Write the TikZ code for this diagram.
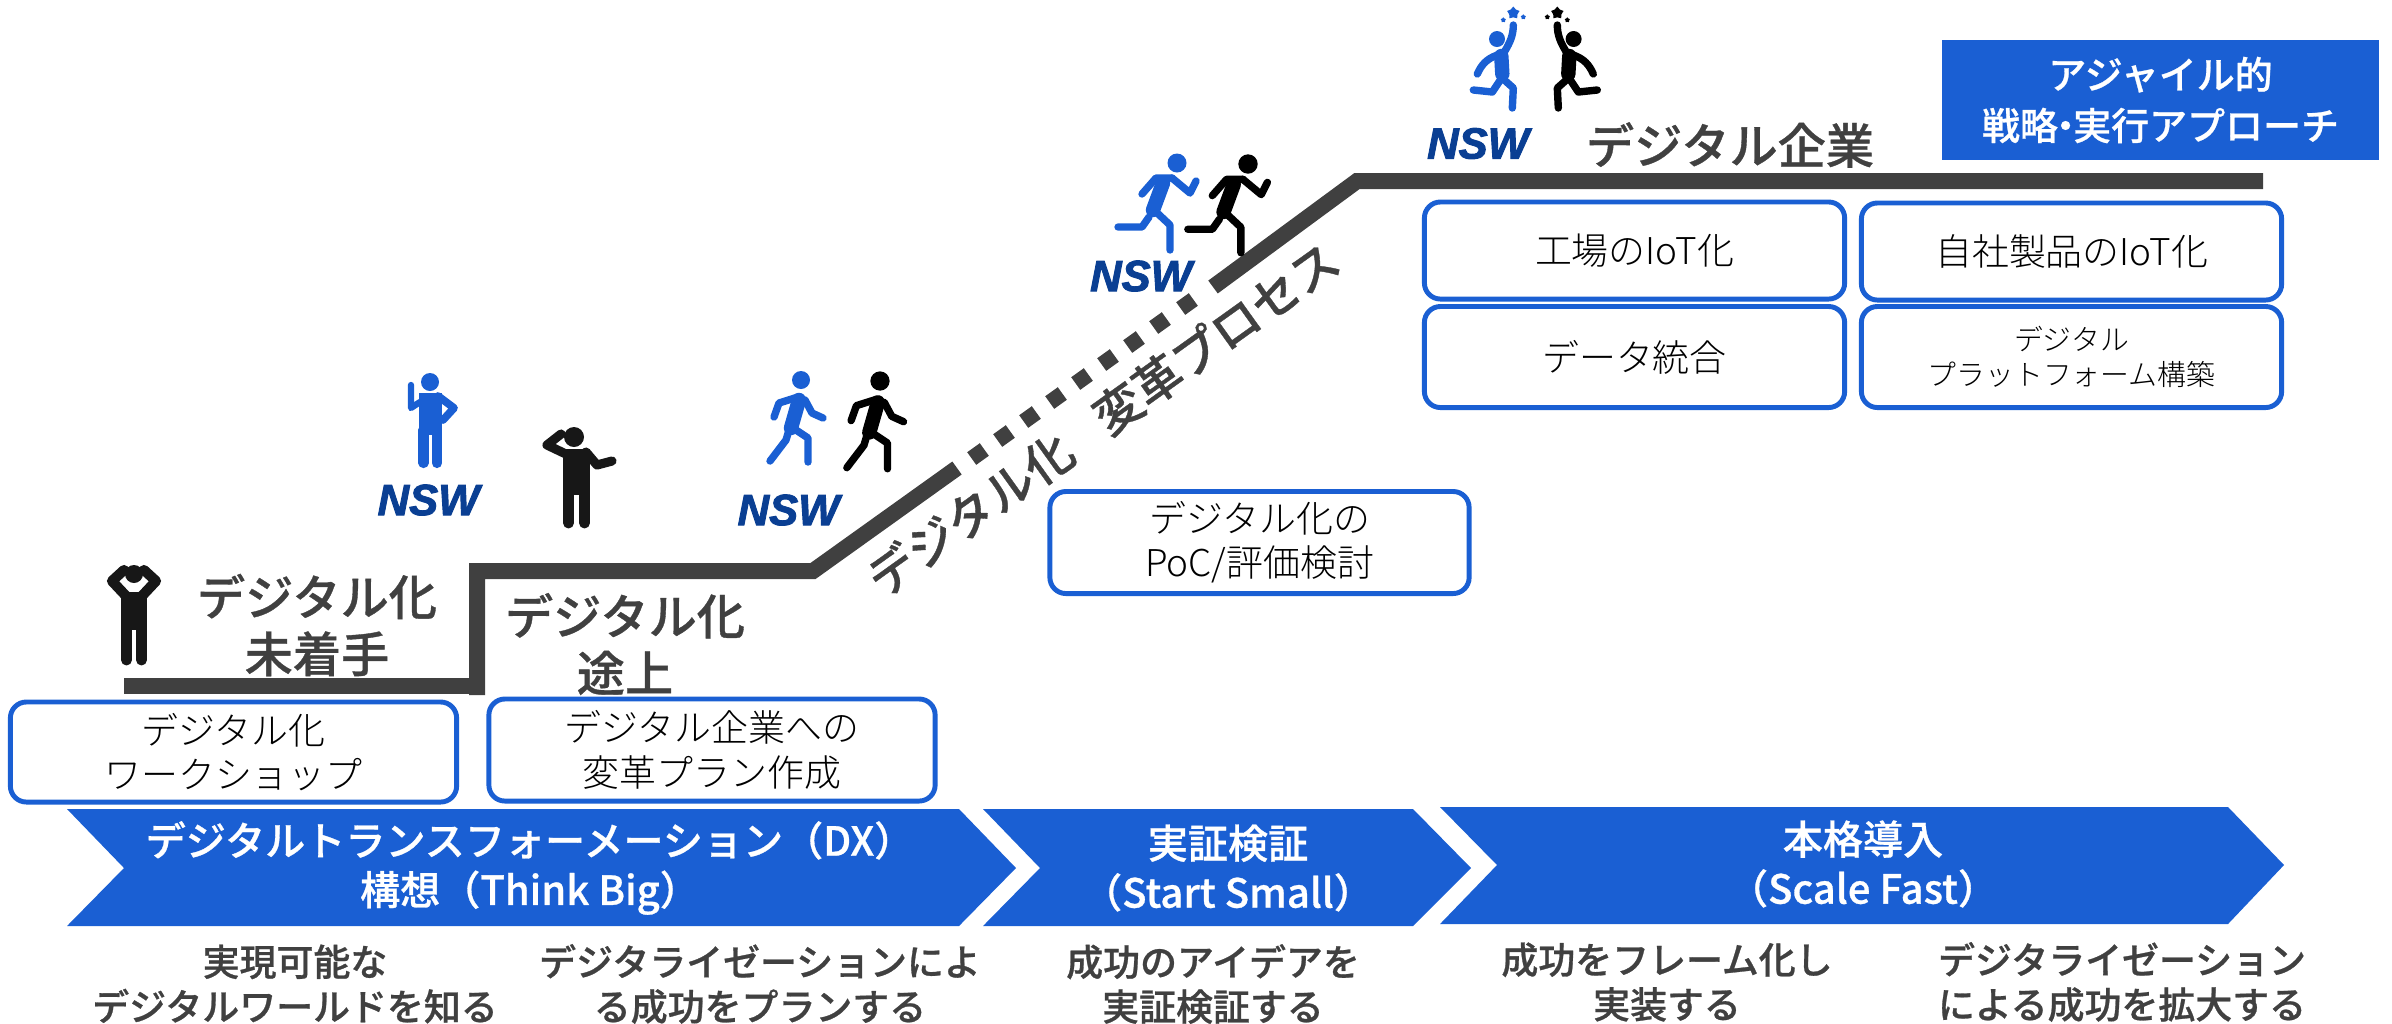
\documentclass[tikz,border=0pt]{standalone}
\usepackage{fontspec}
\setmainfont{Noto Sans CJK JP}
\newfontfamily\nswfont[FakeBold=2.2]{Liberation Sans}
\newfontfamily\midfont[FakeBold=0.7]{Noto Sans CJK JP Medium}
\newfontfamily\thinfont{Noto Sans CJK JP Light}
\usetikzlibrary{shapes.geometric}

\definecolor{nswblue}{HTML}{1A5FD3}
\definecolor{nswdark}{HTML}{0A3F93}
\definecolor{stepgray}{HTML}{404040}
\definecolor{figblack}{HTML}{171717}

\tikzset{
  stepline/.style={draw=stepgray, line width=4.55pt},
  stepdot/.style={fill=stepgray, rotate=35.6, minimum size=0.155cm, inner sep=0pt},
  stagetext/.style={text=stepgray, align=center, font=\midfont\fontsize{13.7pt}{16.2pt}\selectfont},
  worditem/.style 2 args={draw=nswblue, line width=1.4pt, rounded corners=0.16cm, align=center, inner sep=0pt,
    minimum width=#1cm, minimum height=#2cm, font=\thinfont\fontsize{10.5pt}{12.6pt}\selectfont},
  chevtext/.style={text=white, align=center, font=\midfont\fontsize{11.4pt}{14pt}\selectfont},
  goaltext/.style={text=stepgray, align=center, font=\midfont\fontsize{10.5pt}{12.7pt}\selectfont},
  nsw/.style={text=nswdark, inner sep=0pt, font=\nswfont\bfseries\itshape\fontsize{12.4pt}{12.4pt}\selectfont},
  limb/.style={draw=#1, line width=2.1pt, line cap=round, line join=round},
  trunk/.style={draw=#1, line width=4.1pt, line cap=round, line join=round}
}

% walking figure, origin at the head
\newcommand{\walkfig}[1]{
  \fill[#1] (0,0) circle (9);
  \draw[limb=#1] (-3,17) -- (-22,23) -- (-27,37);
  \draw[limb=#1] (4,20) -- (11,33) -- (22,38);
  \draw[trunk=#1] (-2,20) -- (-10,48);
  \draw[limb=#1] (-12,50) -- (-15,60) -- (-31,81);
  \draw[limb=#1] (-8,48) -- (7,58) -- (7,82);
}
% running figure, origin at the head
\newcommand{\runfig}[1]{
  \fill[#1] (0,0) circle (9.5);
  \draw[limb=#1] (-5,15) -- (-21,15) -- (-35,31);
  \draw[limb=#1] (-5,15) -- (13,30) -- (19,18);
  \draw[trunk=#1] (-14,20) -- (-24,47);
  \draw[limb=#1] (-28,54) -- (-35,64) -- (-59,64);
  \draw[limb=#1] (-23,47) -- (-7,62) -- (-7,87);
}
% jumping figure, origin on the axis between both
\newcommand{\jumpfig}[1]{
  \fill[#1] (-38.3,39) circle (8);
  \draw[limb=#1] (-31,52) .. controls (-25,42) and (-22,35) .. (-22,25);
  \draw[trunk=#1] (-34,56) -- (-33,74);
  \draw[limb=#1] (-38,55) .. controls (-49,59) and (-54,65) .. (-58,74);
  \draw[limb=#1] (-35,80) -- (-43,92) -- (-62,90);
  \draw[limb=#1] (-31,80) -- (-22,88) -- (-23,108);
  \node[star, fill=#1, inner sep=0pt, minimum size=0.13cm] (bigstar#1) at (-22,13) {};
  \node[star, fill=#1, inner sep=0pt, minimum size=0.055cm] (leftstar#1) at (-32,20) {};
  \node[star, fill=#1, inner sep=0pt, minimum size=0.055cm] (rightstar#1) at (-12,17) {};
}

\begin{document}
\begin{tikzpicture}[x=0.01cm, y=-0.01cm]
\useasboundingbox (0,0) rectangle (2392,1023);

% Stairs
\draw[stepline] (124,685.5) -- (485,685.5);
\draw[stepline] (477,695) -- (477,571) -- (813,571) -- (957,468);
\draw[stepline] (1213,287) -- (1357,181) -- (2263,181);
\foreach \px/\py in {978/454,1004/436,1030/417,1056/398,1082/379,1108/360,1134/342,1160/323,1187/304}
  \node[stepdot] at (\px,\py) {};

% Stage labels
\node[stagetext] (untouched) at (317,625) {デジタル化\\未着手};
\node[stagetext] (midway) at (625,644) {デジタル化\\途上};
\node[stagetext, rotate=35.6] (digitize) at (970,514) {デジタル化};
\node[stagetext, rotate=35.6] (reform) at (1216,338) {変革プロセス};
\node[stagetext] (company) at (1730,145) {デジタル企業};

% Work items
\node[worditem={4.46}{1.00}] (workshop) at (233.5,752) {デジタル化\\ワークショップ};
\node[worditem={4.46}{1.02}] (plan) at (712,750) {デジタル企業への\\変革プラン作成};
\node[worditem={4.19}{1.02}] (poc) at (1259.5,542.5) {デジタル化の\\PoC/評価検討};
\node[worditem={4.20}{0.97}] (factory) at (1634.5,250.5) {工場のIoT化};
\node[worditem={4.20}{0.97}] (product) at (2071.5,251.5) {自社製品のIoT化};
\node[worditem={4.20}{1.01}] (data) at (1634.5,357) {データ統合};
\node[worditem={4.20}{1.01}, font=\thinfont\fontsize{8.2pt}{10pt}\selectfont] (platform) at (2071.5,357) {デジタル\\プラットフォーム構築};

% Agile box
\node[fill=nswblue, minimum width=4.37cm, minimum height=1.20cm, inner sep=0pt, align=center, text=white,
  font=\midfont\fontsize{10.8pt}{14.5pt}\selectfont] (agile) at (2160.5,100) {アジャイル的\\戦略\hspace{-0.3em}・\hspace{-0.3em}実行アプローチ};

% Chevrons
\fill[nswblue] (67,809) -- (959,809) -- (1016,868) -- (959,926) -- (67,926) -- (124,868) -- cycle;
\fill[nswblue] (983,809) -- (1413,809) -- (1471,868) -- (1413,926) -- (983,926) -- (1040,868) -- cycle;
\fill[nswblue] (1440,807) -- (2228,807) -- (2284,865) -- (2228,924) -- (1440,924) -- (1497,865) -- cycle;
\node[chevtext] (think) at (530,868) {デジタルトランスフォーメーション（DX）\\構想（Think Big）};
\node[chevtext] (start) at (1228,868) {実証検証\\（Start Small）};
\node[chevtext] (scale) at (1863,864) {本格導入\\（Scale Fast）};

% Goals
\node[goaltext] (goala) at (295,984) {実現可能な\\デジタルワールドを知る};
\node[goaltext] (goalb) at (760,984) {デジタライゼーションによ\\る成功をプランする};
\node[goaltext] (goalc) at (1213,984) {成功のアイデアを\\実証検証する};
\node[goaltext] (goald) at (1667,982) {成功をフレーム化し\\実装する};
\node[goaltext] (goale) at (2122,982) {デジタライゼーション\\による成功を拡大する};

% NSW marks
\node[nsw] (nswa) at (428.5,500) {NSW};
\node[nsw] (nswb) at (788.5,510) {NSW};
\node[nsw] (nswc) at (1141,276) {NSW};
\node[nsw] (nswd) at (1478,143.5) {NSW};

% Hands on head
\fill[figblack] (134,574) circle (9);
\draw[figblack, line width=2.9pt, line join=round, line cap=round] (127,597) -- (112,581) -- (124,570);
\draw[figblack, line width=2.9pt, line join=round, line cap=round] (141,597) -- (156,581) -- (144,570);
\fill[figblack] (121,592) rectangle (147,630);
\draw[figblack, line width=3.1pt, line cap=round] (126.5,625) -- (126.5,660);
\draw[figblack, line width=3.1pt, line cap=round] (141.5,625) -- (141.5,660);

% Pointing up
\fill[nswblue] (430,382) circle (9);
\draw[nswblue, line width=1.8pt, line join=round, line cap=round] (411,385) -- (411,408) -- (420,402);
\draw[nswblue, line width=2.2pt, line join=round, line cap=round] (438,396) -- (454,408) -- (443,420);
\fill[nswblue] (418.5,393) rectangle (442,435);
\draw[nswblue, line width=2.9pt, line cap=round] (423.5,430) -- (423.5,463);
\draw[nswblue, line width=2.9pt, line cap=round] (437,430) -- (437,463);

% Hand at head
\fill[figblack] (574,437) circle (10);
\draw[figblack, line width=2.6pt, line join=round, line cap=round] (568,455) -- (547,445) -- (561,434);
\draw[figblack, line width=2.6pt, line join=round, line cap=round] (586,452) -- (597,465) -- (612,461);
\fill[figblack] (563,449) rectangle (590,495);
\draw[figblack, line width=3.1pt, line cap=round] (568.5,490) -- (568.5,523);
\draw[figblack, line width=3.1pt, line cap=round] (584.5,490) -- (584.5,523);

% Walking pair
\begin{scope}[shift={(801,380)}]
  \walkfig{nswblue}
\end{scope}
\begin{scope}[shift={(880,381)}, scale=1.07]
  \walkfig{black}
\end{scope}

% Running pair
\begin{scope}[shift={(1177,163)}]
  \runfig{nswblue}
\end{scope}
\begin{scope}[shift={(1248,164)}, scale=1.02]
  \runfig{black}
\end{scope}

% Jumping pair
\begin{scope}[shift={(1535.3,0)}]
  \jumpfig{nswblue}
\end{scope}
\begin{scope}[shift={(1535.3,0)}, xscale=-1]
  \jumpfig{black}
\end{scope}
\end{tikzpicture}
\end{document}
